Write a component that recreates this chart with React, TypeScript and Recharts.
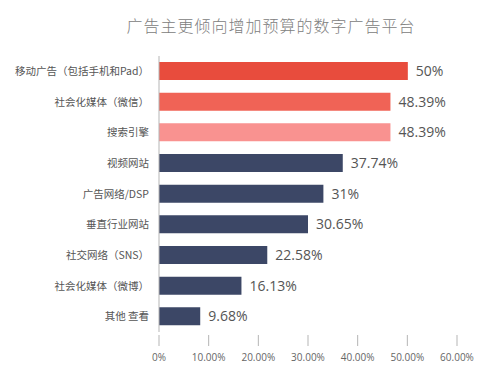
import React from 'react';
import { BarChart, Bar, XAxis, YAxis, Cell, LabelList } from 'recharts';

const categories = [
  '移动广告（包括手机和Pad）',
  '社会化媒体（微信）',
  '搜索引擎',
  '视频网站',
  '广告网络/DSP',
  '垂直行业网站',
  '社交网络（SNS）',
  '社会化媒体（微博）',
  '其他 查看',
];
const barValues = [50.1, 46.6, 46.6, 37.0, 33.1, 30.0, 21.8, 16.6, 8.3];
const valueLabels = ['50%', '48.39%', '48.39%', '37.74%', '31%', '30.65%', '22.58%', '16.13%', '9.68%'];
const barColors = ['#E84C3D', '#F06356', '#F99290', '#3C4766', '#3C4766', '#3C4766', '#3C4766', '#3C4766', '#3C4766'];
const xTicks = [0, 10, 20, 30, 40, 50, 60];
const xTickLabels = ['0%', '10.00%', '20.00%', '30.00%', '40.00%', '50.00%', '60.00%'];
const title = '广告主更倾向增加预算的数字广告平台';

const data = categories.map((name, i) => ({ name, value: barValues[i], label: valueLabels[i] }));

const XTick = (props: any) => {
  const { x, y, payload } = props;
  const idx = xTicks.indexOf(payload.value);
  return (
    <g>
      <line x1={x} x2={x} y1={y + 3} y2={y + 14} stroke="#b5b5b5" strokeWidth={1} />
      <text x={x} y={y + 29} textAnchor="middle" fontSize={10} fill="#666" fontFamily="'Open Sans', sans-serif">
        {xTickLabels[idx]}
      </text>
    </g>
  );
};

export default function App() {
  return (
    <div style={{ position: 'absolute', left: 0, top: 0, width: 500, height: 376, background: '#fff' }}>
      <div
        style={{
          position: 'absolute',
          left: 0,
          width: 542,
          top: 14,
          textAlign: 'center',
          fontSize: 16,
          letterSpacing: 1,
          color: '#808080',
          fontFamily: "'Noto Sans CJK SC', sans-serif",
          fontWeight: 300,
          lineHeight: '22px',
        }}
      >
        {title}
      </div>
      <BarChart
        width={500}
        height={376}
        data={data}
        layout="vertical"
        margin={{ top: 56, right: 43, bottom: 0, left: 0 }}
        barSize={18}
      >
        <XAxis
          type="number"
          domain={[0, 60]}
          ticks={xTicks}
          axisLine={false}
          tickLine={false}
          tickSize={0}
          tickMargin={0}
          height={44}
          tick={<XTick />}
          interval={0}
        />
        <YAxis
          type="category"
          dataKey="name"
          width={159}
          axisLine={{ stroke: '#b5b5b5' }}
          tickLine={false}
          tickSize={6}
          tickMargin={4}
          interval={0}
          tick={{ fontSize: 10.5, fill: '#555', fontFamily: "'Noto Sans CJK SC', sans-serif" }}
        />
        <Bar dataKey="value" isAnimationActive={false}>
          {data.map((d, i) => (
            <Cell key={i} fill={barColors[i]} />
          ))}
          <LabelList
            dataKey="label"
            position="right"
            offset={8}
            fontSize={14}
            fill="#555"
            fontFamily="'Open Sans', sans-serif"
          />
        </Bar>
      </BarChart>
    </div>
  );
}
